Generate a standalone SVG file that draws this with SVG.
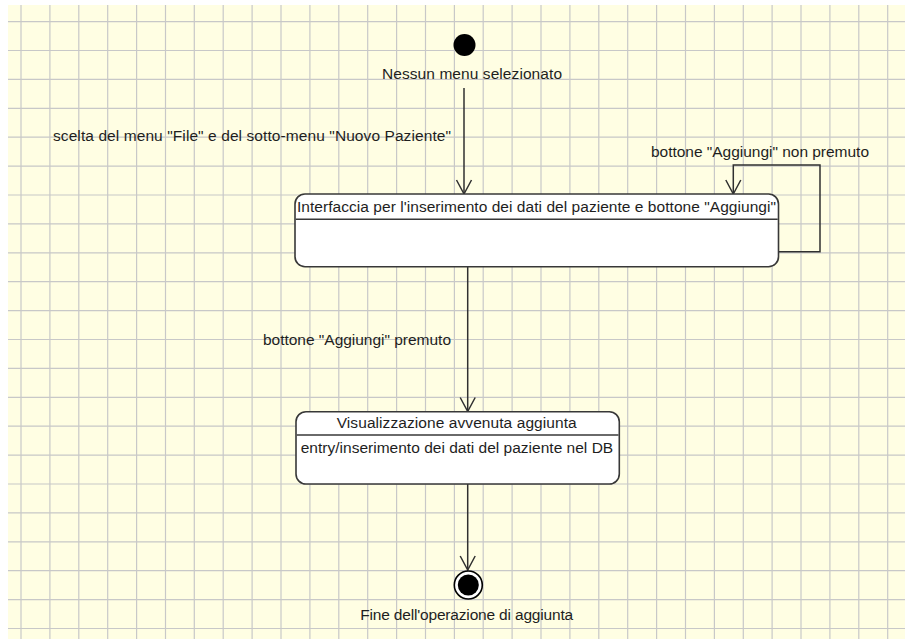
<svg xmlns="http://www.w3.org/2000/svg" width="905" height="639" viewBox="0 0 905 639">
<style>
.bg{fill:#fffee3}
.grid{stroke:#c8c8c8;stroke-width:1.2;fill:none}
.box{fill:#ffffff;stroke:#383838;stroke-width:1.6}
.div{stroke:#383838;stroke-width:1.4}
.edge{fill:none;stroke:#303030;stroke-width:1.5}
text{font-family:"Liberation Sans",Arial,sans-serif;font-size:15.5px;fill:#1e1e1e}
.c{text-anchor:middle}
</style>
<defs>
<marker id="open" viewBox="-16 -10 18 20" refX="0" refY="0" markerWidth="18" markerHeight="20" markerUnits="userSpaceOnUse" orient="auto" overflow="visible">
<path d="M -14 -7.5 L 0 0 L -14 7.5" fill="none" stroke="#303030" stroke-width="1.5"/>
</marker>
</defs>
<rect width="905" height="639" fill="#ffffff"/>
<rect class="bg" x="8" y="5" width="897" height="634"/>
<g id="grid">
<path class="grid" d="M21 5V639M49.9 5V639M78.8 5V639M107.7 5V639M136.6 5V639M165.5 5V639M194.3 5V639M223.2 5V639M252.1 5V639M281 5V639M309.9 5V639M338.8 5V639M367.7 5V639M396.6 5V639M425.5 5V639M454.4 5V639M483.2 5V639M512.1 5V639M541 5V639M569.9 5V639M598.8 5V639M627.7 5V639M656.6 5V639M685.5 5V639M714.4 5V639M743.3 5V639M772.1 5V639M801 5V639M829.9 5V639M858.8 5V639M887.7 5V639"/>
<path class="grid" d="M8 21.6H905M8 50.5H905M8 79.4H905M8 108.3H905M8 137.2H905M8 166.1H905M8 195H905M8 223.9H905M8 252.8H905M8 281.7H905M8 310.6H905M8 339.5H905M8 368.4H905M8 397.3H905M8 426.2H905M8 455.1H905M8 484H905M8 512.9H905M8 541.8H905M8 570.7H905M8 599.6H905M8 628.5H905"/>
</g>
<g id="connectors">
<g id="t-start">
<line class="edge" x1="464" y1="88" x2="464" y2="194" marker-end="url(#open)"/>
<text x="53" y="141" textLength="398" lengthAdjust="spacing">scelta del menu "File" e del sotto-menu "Nuovo Paziente"</text>
</g>
<g id="t-self">
<polyline class="edge" points="778.5,251.7 820,251.7 820,165 733.3,165 733.3,194" marker-end="url(#open)"/>
<text x="651" y="157" textLength="218" lengthAdjust="spacing">bottone "Aggiungi" non premuto</text>
</g>
<g id="t-add">
<line class="edge" x1="467.7" y1="267" x2="467.7" y2="411.5" marker-end="url(#open)"/>
<text x="263" y="344.5" textLength="188" lengthAdjust="spacing">bottone "Aggiungi" premuto</text>
</g>
<g id="t-end">
<line class="edge" x1="467.7" y1="484" x2="467.7" y2="570" marker-end="url(#open)"/>
</g>
</g>
<g id="initial">
<circle cx="464.5" cy="45" r="11" fill="#000"/>
<text class="c" x="472" y="78.5" textLength="180" lengthAdjust="spacing">Nessun menu selezionato</text>
</g>
<g id="state-interfaccia">
<rect class="box" x="295" y="194" width="483.5" height="72.7" rx="10" ry="10"/>
<line class="div" x1="295.8" y1="219.3" x2="777.7" y2="219.3"/>
<text class="c" x="536.5" y="211.7" textLength="479" lengthAdjust="spacing">Interfaccia per l'inserimento dei dati del paziente e bottone "Aggiungi"</text>
</g>
<g id="state-visualizzazione">
<rect class="box" x="296" y="411.7" width="323.3" height="72.3" rx="10" ry="10"/>
<line class="div" x1="296.8" y1="435" x2="618.5" y2="435"/>
<text class="c" x="456.7" y="427.7" textLength="240" lengthAdjust="spacing">Visualizzazione avvenuta aggiunta</text>
<text x="300.7" y="453.3" textLength="312.5" lengthAdjust="spacing">entry/inserimento dei dati del paziente nel DB</text>
</g>
<g id="final">
<circle cx="468.3" cy="585" r="14" fill="#ffffff" stroke="#000" stroke-width="1.6"/>
<circle cx="468.3" cy="585" r="10.5" fill="#000"/>
<text class="c" x="466.7" y="620" textLength="213" lengthAdjust="spacing">Fine dell'operazione di aggiunta</text>
</g>
</svg>
